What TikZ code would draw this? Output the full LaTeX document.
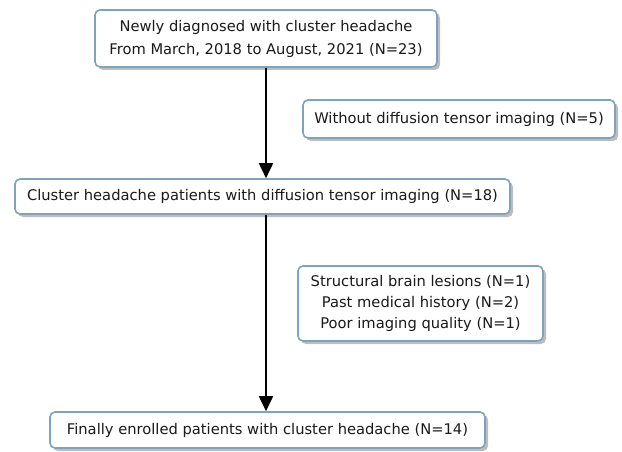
\documentclass[tikz,border=0pt]{standalone}
\usepackage{fontspec}
\setmainfont{DejaVu Sans}
\usetikzlibrary{shadows,arrows.meta}
\definecolor{boxborder}{HTML}{7FA3BC}
\definecolor{shadowgray}{HTML}{BDBDBD}
\definecolor{textcol}{HTML}{1A1A1A}
\tikzset{
  flowbox/.style={draw=boxborder, line width=1.6pt, rounded corners=5pt, fill=white,
    align=center, inner sep=0pt, text=textcol, font=\fontsize{14.7}{23}\selectfont,
    drop shadow={shadow xshift=3pt, shadow yshift=-3pt, fill=shadowgray, opacity=1}},
  flowarrow/.style={draw=black, line width=1.8pt, -{Triangle[length=15pt,width=14pt]}}
}
\begin{document}
\begin{tikzpicture}[x=1pt,y=-1pt]
\useasboundingbox (0,0) rectangle (622,452);
\node[flowbox, minimum width=342pt, minimum height=57pt] (top) at (266,38.5)
  {Newly diagnosed with cluster headache\\From March, 2018 to August, 2021 (N=23)};
\node[flowbox, minimum width=312pt, minimum height=38pt] (side1) at (459,119)
  {Without diffusion tensor imaging (N=5)};
\node[flowbox, minimum width=495pt, minimum height=35pt] (mid) at (262.5,196.5)
  {Cluster headache patients with diffusion tensor imaging (N=18)};
\node[flowbox, minimum width=245pt, minimum height=75pt, font=\fontsize{14.7}{21}\selectfont] (side2) at (420.5,303.5)
  {Structural brain lesions (N=1)\\Past medical history (N=2)\\Poor imaging quality (N=1)};
\node[flowbox, minimum width=435pt, minimum height=36pt] (bot) at (267.5,430)
  {Finally enrolled patients with cluster headache (N=14)};
\draw[flowarrow] (top.south) -- (top.south |- mid.north);
\draw[flowarrow] (mid.south -| top.south) -- (top.south |- bot.north);
\end{tikzpicture}
\end{document}
